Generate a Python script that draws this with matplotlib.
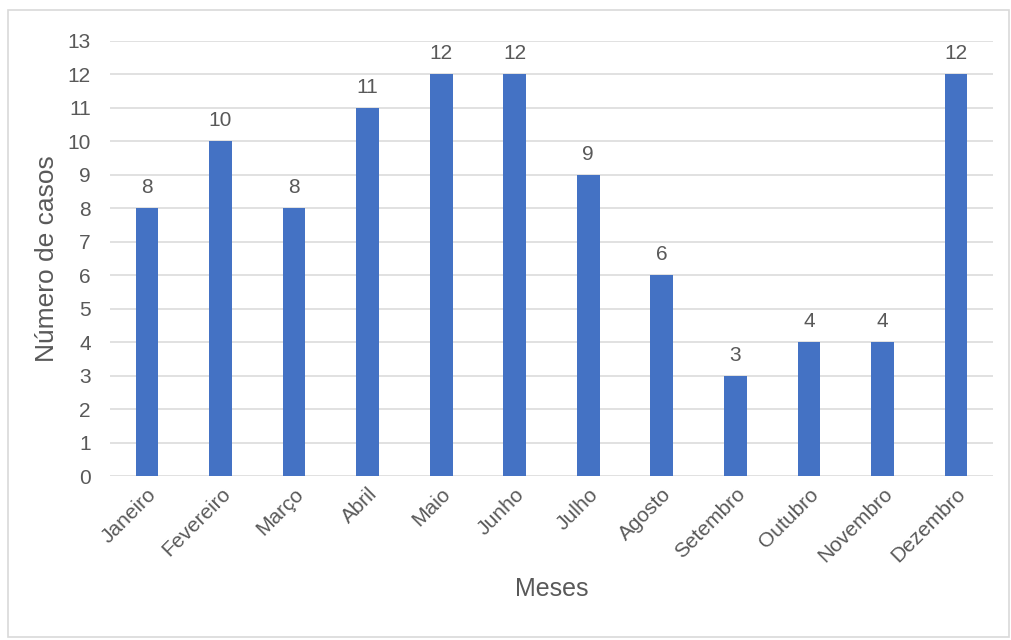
import matplotlib
matplotlib.use("Agg")
import matplotlib.pyplot as plt
from matplotlib.patches import Rectangle

meses = ["Janeiro", "Fevereiro", "Março", "Abril", "Maio", "Junho",
         "Julho", "Agosto", "Setembro", "Outubro", "Novembro", "Dezembro"]
casos = [8, 10, 8, 11, 12, 12, 9, 6, 3, 4, 4, 12]
y_ticks = list(range(0, 14))

plt.rcParams["font.family"] = ["Liberation Sans", "DejaVu Sans"]
text_color = "#595959"
grid_color = "#d9d9d9"

fig = plt.figure(figsize=(10.11, 6.40), dpi=100)
fig.patches.append(Rectangle((8 / 1011, 3 / 640), 1001 / 1011, 627 / 640,
                             transform=fig.transFigure, fill=False,
                             edgecolor=grid_color, linewidth=1.2))

ax = fig.add_axes([0.109, 0.256, 0.873, 0.680])
x = list(range(len(meses)))
bars = ax.bar(x, casos, width=0.31, color="#4472C4", zorder=3)

for xi, v in zip(x, casos):
    ax.annotate(str(v), (xi, v), xytext=(0, 8), textcoords="offset points",
                ha="center", va="bottom", fontsize=15, color=text_color)

ax.set_xlim(-0.5, len(meses) - 0.5)
ax.set_ylim(0, 13)
ax.set_yticks(y_ticks)
ax.yaxis.grid(True, color=grid_color, linewidth=1.1, zorder=0)
ax.set_axisbelow(True)
for s in ax.spines.values():
    s.set_visible(False)
ax.tick_params(axis="both", length=0, labelsize=15, labelcolor=text_color)
ax.tick_params(axis="y", pad=14)
ax.tick_params(axis="x", pad=6)
ax.set_xticks(x)
ax.set_xticklabels(meses, rotation=45, ha="right", rotation_mode="anchor")

ax.set_ylabel("Número de casos", fontsize=19, color=text_color, labelpad=6)
ax.set_xlabel("Meses", fontsize=18, color=text_color, labelpad=8)

fig.savefig("out.png", dpi=100, facecolor="white")
